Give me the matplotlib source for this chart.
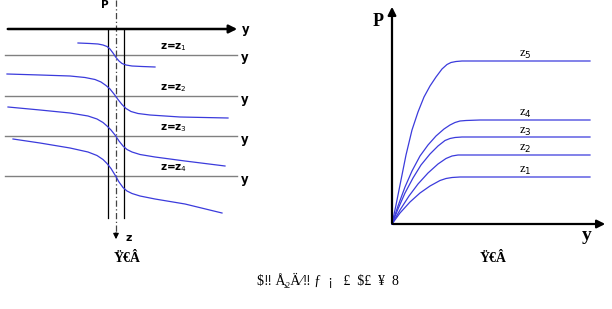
import matplotlib
matplotlib.use("Agg")
import matplotlib.pyplot as plt

# ---- data (pixel coordinates) ----
# left panel: concentration profiles across the fracture for depths z1..z4
left_x1 = [78, 90, 98, 103, 107, 110, 113, 116, 119, 122, 126, 132, 142, 155]
left_y1 = [43, 43.5, 44, 45, 46.5, 49, 53, 57.5, 61, 63.5, 65, 66, 66.5, 67]
left_x2 = [7, 40, 70, 85, 95, 101, 106, 110, 114, 118, 122, 126, 131, 138, 150, 180, 228]
left_y2 = [74, 75, 76, 77.5, 79.5, 82, 85.5, 89, 94, 99.5, 104.5, 108.5, 111.5, 113.5, 115, 117, 118]
left_x3 = [8, 40, 70, 88, 97, 103, 107, 111, 115, 119, 123, 127, 132, 140, 155, 185, 225]
left_y3 = [107, 110, 113, 116, 119, 122.5, 126, 130, 135, 141, 146, 149.5, 152, 154.5, 157, 161, 166]
left_x4 = [13, 40, 70, 88, 97, 103, 107, 111, 115, 119, 123, 127, 132, 140, 155, 185, 222]
left_y4 = [139, 143, 148, 152, 155.5, 159.5, 163.5, 168.5, 175, 182, 187.5, 191, 193.5, 196, 199, 204, 213]
left_labels = ["z=z$_1$", "z=z$_2$", "z=z$_3$", "z=z$_4$"]
left_levels = [55, 96, 136, 176]

# right panel: P versus y for depths z1..z5
right_x5 = [392, 396, 401, 406, 412, 418, 424, 430, 436, 442, 447, 451, 456, 462, 480, 590]
right_y5 = [224, 205, 180, 155, 130, 112, 97, 86, 77, 69, 64.5, 62.5, 61.5, 61, 61, 61]
right_x4 = [392, 398, 405, 412, 420, 428, 436, 444, 450, 455, 460, 466, 480, 590]
right_y4 = [224, 206, 187, 171, 156, 145, 136, 129, 125, 122.5, 121, 120.5, 120, 120]
right_x3 = [392, 398, 405, 413, 421, 430, 438, 445, 450, 455, 462, 480, 590]
right_y3 = [224, 209, 193, 178, 165, 154, 146, 140.5, 138.5, 137.5, 137, 137, 137]
right_x2 = [392, 400, 409, 418, 428, 438, 446, 452, 458, 465, 480, 590]
right_y2 = [224, 210, 196, 184, 173, 164, 158.5, 156, 155, 155, 155, 155]
right_x1 = [392, 400, 410, 420, 430, 440, 446, 452, 460, 480, 590]
right_y1 = [224, 213, 202, 193, 186, 180.5, 178.5, 177.5, 177, 177, 177]
right_labels = ["z$_1$", "z$_2$", "z$_3$", "z$_4$", "z$_5$"]
right_label_y = [171, 149, 132, 114, 55]

cap_left = "Ÿ€Â"
cap_right = "Ÿ€Â"
cap_bottom = r"\$‼ Å̧₂Ä⁄‼ ƒ  ¡   £  \$£  ¥  8"

BLUE = "#3b3bdc"

fig = plt.figure(figsize=(6.12, 3.09), dpi=100)
ax = fig.add_axes([0, 0, 1, 1])
ax.set_xlim(0, 612)
ax.set_ylim(309, 0)
ax.axis("off")

# ---- left panel ----
for lv in left_levels:
    ax.plot([5, 237], [lv, lv], color="#808080", lw=1.0)
    ax.text(241, lv + 3, "y", fontsize=8.5, fontweight="bold", va="center", ha="left")
ax.annotate("", xy=(240, 29), xytext=(5, 29),
            arrowprops=dict(arrowstyle="-|>", color="black", lw=1.8, mutation_scale=12))
ax.text(242, 30, "y", fontsize=8.5, fontweight="bold", va="center", ha="left")
ax.plot([108, 108], [29, 218], color="black", lw=0.9)
ax.plot([124, 124], [29, 218], color="black", lw=0.9)
ax.plot([116, 116], [0, 232], color="#444444", lw=0.9, ls=(0, (5, 2, 1, 2)))
ax.annotate("", xy=(116, 242), xytext=(116, 230),
            arrowprops=dict(arrowstyle="-|>", color="black", lw=0.9, mutation_scale=8))
ax.text(105, 5, "P", fontsize=7.5, fontweight="bold", ha="center", va="center")
ax.text(126, 238, "z", fontsize=8, fontweight="bold", ha="left", va="center")
for lv, lab in zip(left_levels, left_labels):
    ax.text(160, lv - 8, lab, fontsize=7.5, fontweight="bold", ha="left", va="center")
for xs, ys in [(left_x1, left_y1), (left_x2, left_y2), (left_x3, left_y3), (left_x4, left_y4)]:
    ax.plot(xs, ys, color=BLUE, lw=0.9, solid_joinstyle="round")

# ---- right panel ----
ax.annotate("", xy=(392, 4), xytext=(392, 226),
            arrowprops=dict(arrowstyle="-|>", color="black", lw=1.6, mutation_scale=12))
ax.annotate("", xy=(608, 224), xytext=(390, 224),
            arrowprops=dict(arrowstyle="-|>", color="black", lw=1.6, mutation_scale=12))
ax.text(378, 22, "P", fontsize=13, fontweight="bold", family="Liberation Serif",
        ha="center", va="center")
ax.text(587, 236, "y", fontsize=14, fontweight="bold", family="Liberation Serif",
        ha="center", va="center")
for xs, ys in [(right_x1, right_y1), (right_x2, right_y2), (right_x3, right_y3),
               (right_x4, right_y4), (right_x5, right_y5)]:
    ax.plot(xs, ys, color=BLUE, lw=0.9, solid_joinstyle="round")
for yy, lab in zip(right_label_y, right_labels):
    ax.text(525, yy, lab, fontsize=9, family="Liberation Serif", ha="center", va="center")

# ---- captions ----
ax.text(127, 259, cap_left, fontsize=10, fontweight="bold", family=["Liberation Serif", "DejaVu Serif"],
        ha="center", va="center")
ax.text(493, 259, cap_right, fontsize=10, fontweight="bold", family=["Liberation Serif", "DejaVu Serif"],
        ha="center", va="center")
ax.text(328, 280, cap_bottom, fontsize=10, family=["Liberation Serif", "DejaVu Serif"],
        ha="center", va="center")

fig.savefig("out.png", dpi=100)
